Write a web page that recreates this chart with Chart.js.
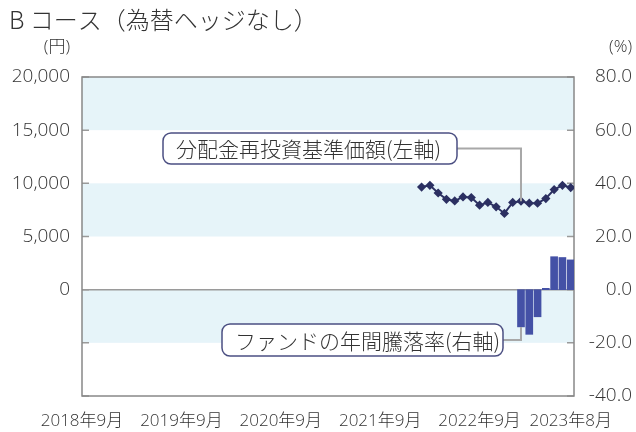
<!DOCTYPE html>
<html>
<head>
<meta charset="utf-8">
<script src="https://cdn.jsdelivr.net/npm/chart.js@4.4.1/dist/chart.umd.min.js"></script>
<style>
  body { margin: 0; background: #fff; }
  #wrap { width: 636px; height: 432px; position: relative; }
</style>
</head>
<body>
<div id="wrap"><canvas id="chart"></canvas></div>
<script>
// months counted from 2018年9月 (= 0)
const xTickMonths = [0, 12, 24, 36, 48, 59];
const xTickLabels = ['2018年9月', '2019年9月', '2020年9月', '2021年9月', '2022年9月', '2023年8月'];

// 分配金再投資基準価額 (円), monthly from 2022年2月
const navStart = 41;
const navValues = [9650, 9810, 9090, 8500, 8350, 8720, 8660, 7940, 8200, 7790, 7170, 8200, 8320, 8130, 8130, 8570, 9410, 9810, 9600];

// ファンドの年間騰落率 (%), monthly from 2023年2月
const returnStart = 53;
const returnValues = [-14.0, -16.8, -10.2, 0.5, 12.4, 12.1, 11.2];

const leftTicks = [-10000, 20000, 5000];   // min, max, step
const rightTicks = [-40, 80, 20];

const FONT = '"Open Sans", "Noto Sans CJK JP", sans-serif';
const JFONT = '"Noto Sans CJK JP", sans-serif';
const TEXT = '#333333';

const navPoints = navValues.map((v, i) => ({ x: navStart + i, y: v }));
const returnPoints = returnValues.map((v, i) => ({ x: returnStart + i, y: v }));

const frame = {
  id: 'frame',
  beforeDatasetsDraw(chart) {
    const { ctx, chartArea: a, scales } = chart;
    const y = scales.y;
    ctx.save();
    // light blue bands
    ctx.fillStyle = '#e6f4f9';
    [[20000, 15000], [10000, 5000], [0, -5000]].forEach(([hi, lo]) => {
      const t = y.getPixelForValue(hi), b = y.getPixelForValue(lo);
      ctx.fillRect(a.left, t, a.right - a.left, b - t);
    });
    // zero line
    ctx.strokeStyle = '#9a9a9a';
    ctx.lineWidth = 1.5;
    const z = y.getPixelForValue(0);
    ctx.beginPath(); ctx.moveTo(a.left, z); ctx.lineTo(a.right, z); ctx.stroke();
    // inner tick marks
    for (let v = leftTicks[0]; v <= leftTicks[1]; v += leftTicks[2]) {
      const p = y.getPixelForValue(v);
      ctx.beginPath();
      ctx.moveTo(a.left, p); ctx.lineTo(a.left + 7, p);
      ctx.moveTo(a.right, p); ctx.lineTo(a.right - 7, p);
      ctx.stroke();
    }
    // border
    ctx.strokeStyle = '#888888';
    ctx.lineWidth = 1.5;
    ctx.strokeRect(a.left, a.top, a.right - a.left, a.bottom - a.top);
    ctx.restore();
  },
  afterDraw(chart) {
    const { ctx, scales } = chart;
    ctx.save();
    ctx.fillStyle = TEXT;
    ctx.textBaseline = 'middle';
    ctx.font = '300 24px ' + JFONT;
    ctx.textAlign = 'left';
    ctx.fillText('B コース（為替ヘッジなし）', 9, 20);
    ctx.font = '300 17px ' + FONT;
    ctx.textAlign = 'right';
    ctx.fillText('(円)', 70, 47);
    ctx.fillText('(%)', 632, 47);

    const callout = (box, label, tx, ty) => {
      const [bx, by, bw, bh] = box;
      const my = by + bh / 2;
      ctx.strokeStyle = '#a8a8a8';
      ctx.lineWidth = 2;
      ctx.beginPath();
      ctx.moveTo(bx + bw, my); ctx.lineTo(tx, my); ctx.lineTo(tx, ty);
      ctx.stroke();
      ctx.beginPath();
      ctx.roundRect(bx, by, bw, bh, 8);
      ctx.fillStyle = '#ffffff';
      ctx.fill();
      ctx.strokeStyle = '#4b4f82';
      ctx.lineWidth = 1.5;
      ctx.stroke();
      ctx.fillStyle = TEXT;
      ctx.font = '300 21px ' + JFONT;
      ctx.textAlign = 'left';
      ctx.fillText(label, bx + 13, my + 1);
    };
    const xi = scales.x.getPixelForValue(returnStart);
    callout([163, 133, 294, 31], '分配金再投資基準価額(左軸)', xi,
      scales.y.getPixelForValue(navValues[returnStart - navStart]));
    callout([222, 324, 281, 32], 'ファンドの年間騰落率(右軸)', xi,
      scales.y1.getPixelForValue(returnValues[0]));
    ctx.restore();
  }
};

new Chart(document.getElementById('chart'), {
  type: 'bar',
  data: {
    datasets: [
      {
        type: 'line',
        data: navPoints,
        yAxisID: 'y',
        borderColor: '#2c3062',
        backgroundColor: '#2c3062',
        borderWidth: 2,
        pointStyle: 'rectRot',
        pointRadius: 3.2,
        pointHoverRadius: 3.2,
        tension: 0,
      },
      {
        type: 'bar',
        data: returnPoints,
        yAxisID: 'y1',
        backgroundColor: '#4451a6',
        barThickness: 7,
      },
    ],
  },
  options: {
    responsive: true,
    maintainAspectRatio: false,
    animation: false,
    layout: { padding: { top: 77, right: 4, left: 0, bottom: 0 } },
    plugins: { legend: { display: false }, tooltip: { enabled: false } },
    scales: {
      x: {
        type: 'linear',
        offset: false,
        min: 0,
        max: 59.4,
        afterBuildTicks: (s) => { s.ticks = xTickMonths.map((v) => ({ value: v })); },
        afterFit: (s) => { s.height = 36; },
        grid: { display: false, drawTicks: false, offset: false },
        border: { display: false },
        ticks: {
          autoSkip: false,
          maxRotation: 0,
          padding: 15,
          color: TEXT,
          font: { family: FONT, size: 17, weight: 300 },
          callback: (v) => xTickLabels[xTickMonths.indexOf(v)],
        },
      },
      y: {
        position: 'left',
        min: leftTicks[0],
        max: leftTicks[1],
        afterFit: (s) => { s.width = 82; },
        grid: { display: false, drawTicks: false },
        border: { display: false },
        ticks: {
          stepSize: leftTicks[2],
          padding: 12,
          color: TEXT,
          font: { family: FONT, size: 19, weight: 300 },
          callback: (v) => (v < 0 ? '' : v.toLocaleString('en-US')),
        },
      },
      y1: {
        position: 'right',
        min: rightTicks[0],
        max: rightTicks[1],
        afterFit: (s) => { s.width = 58; },
        grid: { display: false, drawTicks: false },
        border: { display: false },
        ticks: {
          stepSize: rightTicks[2],
          crossAlign: 'far',
          color: TEXT,
          font: { family: FONT, size: 19, weight: 300 },
          callback: (v) => v.toFixed(1),
        },
      },
    },
  },
  plugins: [frame],
});
</script>
</body>
</html>
